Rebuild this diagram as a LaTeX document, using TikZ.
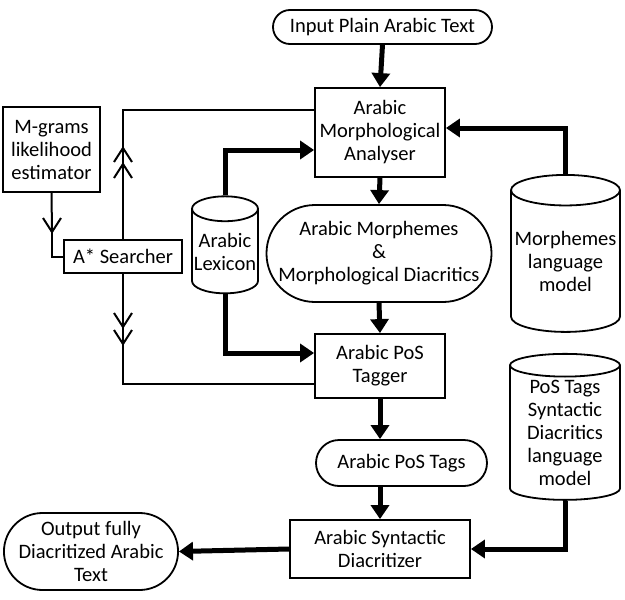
\documentclass[tikz,border=0pt]{standalone}
\usepackage{fontspec}
\setmainfont{Carlito}
\usetikzlibrary{shapes.geometric,shapes.misc,arrows.meta}
\begin{document}
\begin{tikzpicture}[x=1pt,y=-1pt,
  every node/.style={font=\fontsize{20.5}{23}\selectfont,align=center,draw,line width=1.8pt,inner sep=0pt},
  box/.style={rectangle},
  cyl/.style={cylinder,shape border rotate=90,aspect=0.3},
  thick arr/.style={line width=5pt,-{Triangle[length=14pt,width=18pt]}},
  thin/.style={line width=2pt},
  vup/.style={thin,insert path={++(-9,14) -- ++(9,-14) -- ++(9,14)}},
  vdn/.style={thin,insert path={++(-9,-14) -- ++(9,14) -- ++(9,-14)}}]
\useasboundingbox (0,0) rectangle (625,600);
\node[rounded rectangle,minimum width=219pt,minimum height=34pt] (in) at (382.5,27) {Input Plain Arabic Text};
\node[box,minimum width=130pt,minimum height=89pt] (ana) at (380,132.5) {Arabic\\Morphological\\Analyser};
\node[rounded rectangle,minimum width=222pt,minimum height=97pt] (mor) at (379,253.5) {Arabic Morphemes\\\&\\Morphological Diacritics};
\node[box,minimum width=130pt,minimum height=64pt] (tag) at (380,366) {Arabic PoS\\Tagger};
\node[rounded rectangle,minimum width=171pt,minimum height=46pt] (pos) at (401.5,463) {Arabic PoS Tags};
\node[box,minimum width=180pt,minimum height=58pt] (syn) at (380,549) {Arabic Syntactic\\Diacritizer};
\node[rounded rectangle,minimum width=170pt,minimum height=77pt] (out) at (91,551.5) {Output fully\\Diacritized Arabic\\Text};
\node[box,minimum width=97pt,minimum height=85pt] (mg) at (51.5,149.5) {M-grams\\likelihood\\estimator};
\node[box,minimum width=118pt,minimum height=33pt] (ast) at (123,256.5) {A* Searcher};
\node[cyl,minimum width=66pt,minimum height=97pt,aspect=0.4] (lex) at (225,251.5) {Arabic\\Lexicon};
\node[cyl,minimum width=109pt,minimum height=157pt] (mlm) at (565.5,261.5) {Morphemes\\language\\model};
\node[cyl,minimum width=110pt,minimum height=146pt] (plm) at (565,433) {PoS Tags\\Syntactic\\Diacritics\\language\\model};
\coordinate (m1) at (52,232);
\draw[thin] (mg.south) -- (m1);
\draw[thin] (m1) ++(-9,-14) -- (m1) -- ++(9,-14);
\draw[thin] (m1) |- (ast.west);
\draw[thin] (ast.north) |- (ana.west|-0,110);
\draw[thin] (123,148) ++(-9,14) -- (123,148) -- ++(9,14);
\draw[thin] (123,164) ++(-9,14) -- (123,164) -- ++(9,14);
\draw[thin] (ast.south) |- (tag.west|-0,384);
\draw[thin] (123,327) ++(-9,-14) -- (123,327) -- ++(9,-14);
\draw[thin] (123,344) ++(-9,-14) -- (123,344) -- ++(9,-14);
\draw[thick arr] (in.south) -- (ana.north);
\draw[thick arr] (ana.south) -- (mor.north);
\draw[thick arr] (mor.south) -- (tag.north);
\draw[thick arr] (tag.south) -- (pos.north-|tag.south);
\draw[thick arr] (pos.south-|syn.north) -- (syn.north);
\draw[thick arr] (syn.west) -- (out.east);
\draw[thick arr] (lex.north) |- (ana.west|-0,150);
\draw[thick arr] (lex.south) |- (tag.west|-0,353);
\draw[thick arr] (mlm.north) |- (ana.east|-0,128);
\draw[thick arr] (plm.south) |- (syn.east);
\end{tikzpicture}
\end{document}
